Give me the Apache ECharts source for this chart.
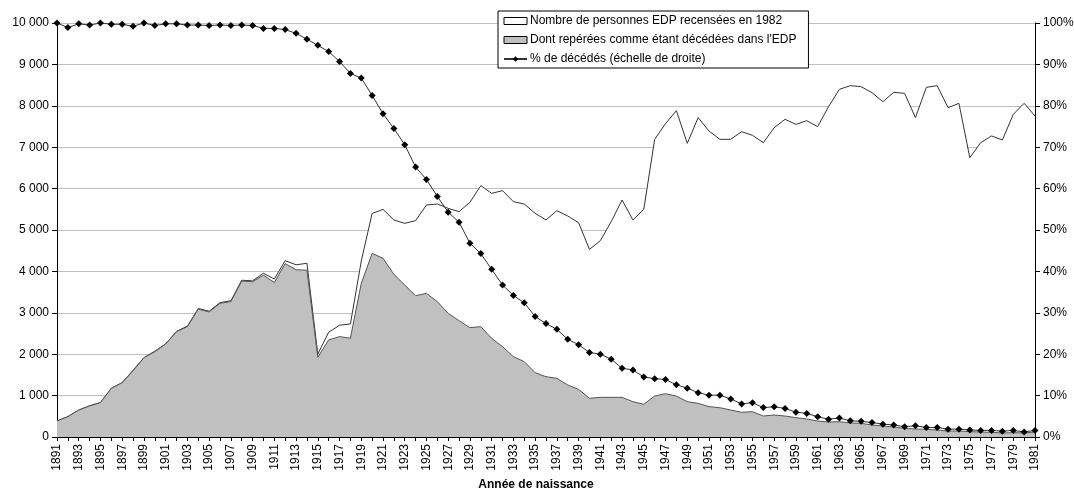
<!DOCTYPE html>
<html>
<head>
<meta charset="utf-8">
<script src="https://cdn.jsdelivr.net/npm/echarts@6/dist/echarts.min.js"></script>
<style>
html,body{margin:0;padding:0;background:#fff;}
#chart{width:1074px;height:490px;}
</style>
</head>
<body>
<div id="chart"></div>
<script>
// Years of birth 1891..1981
var years = [];
for (var y = 1891; y <= 1981; y++) years.push(String(y));

// Number of EDP persons counted in 1982
var totalPersons = [
  386, 495, 652, 754, 830, 1178, 1314, 1612, 1915, 2072,
  2250, 2550, 2678, 3105, 3038, 3246, 3290, 3786, 3772, 3955,
  3815, 4260, 4160, 4195, 2000, 2530, 2700, 2730, 4250, 5400,
  5499, 5242, 5161, 5225, 5604, 5628, 5523, 5443, 5668, 6071,
  5886, 5950, 5684, 5628, 5403, 5242, 5467, 5338, 5177, 4533,
  4742, 5201, 5725, 5242, 5499, 7190, 7570, 7882, 7093, 7713,
  7391, 7190, 7190, 7375, 7287, 7110, 7472, 7673, 7552, 7641,
  7496, 7979, 8398, 8486, 8462, 8317, 8100, 8325, 8301, 7713,
  8446, 8486, 7955, 8060, 6747, 7110, 7271, 7174, 7794, 8060,
  7754
];

// Of whom identified as deceased in the EDP
var deceased = [
  386, 490, 650, 750, 830, 1175, 1310, 1600, 1915, 2060,
  2245, 2545, 2665, 3090, 3020, 3230, 3270, 3768, 3750, 3910,
  3730, 4190, 4040, 4030, 1925, 2345, 2425, 2385, 3710, 4436,
  4316, 3930, 3671, 3414, 3470, 3269, 2987, 2810, 2641, 2665,
  2383, 2182, 1940, 1820, 1554, 1457, 1417, 1256, 1151, 934,
  958, 958, 958, 853, 789, 990, 1045, 990, 853, 813,
  733, 708, 652, 596, 612, 507, 531, 507, 467, 435,
  386, 362, 370, 340, 330, 290, 266, 241, 209, 193,
  185, 169, 145, 145, 129, 121, 113, 97, 105, 97,
  121
];

// % deceased (right scale)
var pctDeceased = [
  100, 98.9, 99.8, 99.5, 100, 99.7, 99.7, 99.2, 100, 99.4,
  99.8, 99.8, 99.5, 99.5, 99.4, 99.5, 99.4, 99.5, 99.4, 98.7,
  98.7, 98.4, 97.5, 96.1, 94.6, 93.1, 90.7, 87.8, 86.7, 82.5,
  78.1, 74.5, 70.6, 65.2, 62.2, 58.1, 54.3, 51.9, 46.8, 44.3,
  40.5, 36.7, 34.2, 32.4, 29.1, 27.4, 26.0, 23.6, 22.3, 20.4,
  20.0, 18.8, 16.6, 16.2, 14.5, 14.1, 13.9, 12.6, 11.8, 10.7,
  10.1, 10.1, 9.2, 8.0, 8.3, 7.1, 7.3, 6.9, 6.0, 5.7,
  4.9, 4.3, 4.6, 3.9, 3.8, 3.5, 3.1, 2.9, 2.5, 2.7,
  2.3, 2.3, 1.9, 1.9, 1.7, 1.6, 1.6, 1.4, 1.6, 1.2,
  1.6
];

var seriesNames = [
  "Nombre de personnes EDP recensées en 1982",
  "Dont repérées comme étant décédées dans l'EDP",
  "% de décédés (échelle de droite)"
];
var xAxisTitle = "Année de naissance";

var FONT = "'Liberation Sans', Arial, sans-serif";

function fmtThousands(v) {
  return String(v).replace(/\B(?=(\d{3})+(?!\d))/g, ' ');
}

var chart = echarts.init(document.getElementById('chart'), null, {renderer: 'canvas'});
chart.setOption({
  animation: false,
  backgroundColor: '#fff',
  textStyle: {fontFamily: FONT},
  grid: {left: 57, right: 39, top: 23, bottom: 53, containLabel: false, outerBoundsMode: 'none'},
  legend: {
    show: true,
    orient: 'vertical',
    left: 498,
    top: 11,
    padding: [3, 12, 2, 5],
    itemGap: 5,
    itemWidth: 23,
    itemHeight: 7,
    borderColor: '#000',
    borderWidth: 1,
    backgroundColor: '#fff',
    textStyle: {fontFamily: FONT, fontSize: 12, color: '#000', lineHeight: 14, padding: [0, 0, 0, -2]},
    data: [
      {name: seriesNames[0], icon: 'rect', itemStyle: {color: '#fff', borderColor: '#000', borderWidth: 1}},
      {name: seriesNames[1], icon: 'rect', itemStyle: {color: '#c0c0c0', borderColor: '#000', borderWidth: 1}},
      {name: seriesNames[2]}
    ]
  },
  xAxis: {
    type: 'category',
    data: years,
    boundaryGap: false,
    name: xAxisTitle,
    nameLocation: 'middle',
    nameGap: 42,
    nameTextStyle: {fontFamily: FONT, fontSize: 12, fontWeight: 'bold', color: '#000', padding: [0, 20, 0, 0]},
    axisLine: {lineStyle: {color: '#000', width: 1}},
    axisTick: {show: true, interval: 0, length: 4, lineStyle: {color: '#000'}},
    axisLabel: {interval: 1, rotate: 90, fontFamily: FONT, fontSize: 12, color: '#000', margin: 7},
    splitLine: {show: false}
  },
  yAxis: [
    {
      type: 'value',
      min: 0, max: 10000, interval: 1000,
      axisLine: {show: true, lineStyle: {color: '#000'}},
      axisTick: {show: true, length: 5, lineStyle: {color: '#000'}},
      axisLabel: {fontFamily: FONT, fontSize: 12, color: '#000', margin: 8, formatter: fmtThousands},
      splitLine: {show: true, lineStyle: {color: '#c0c0c0', width: 1}}
    },
    {
      type: 'value',
      min: 0, max: 100, interval: 10,
      position: 'right',
      axisLine: {show: true, lineStyle: {color: '#000'}},
      axisTick: {show: true, length: 5, lineStyle: {color: '#000'}},
      axisLabel: {fontFamily: FONT, fontSize: 12, color: '#000', margin: 8, formatter: '{value}%'},
      splitLine: {show: false}
    }
  ],
  series: [
    {
      name: seriesNames[0],
      type: 'line',
      yAxisIndex: 0,
      data: totalPersons,
      showSymbol: false,
      symbol: 'none',
      itemStyle: {color: '#fff', borderColor: '#000'},
      lineStyle: {color: '#333', width: 1},
      areaStyle: {color: '#fff', opacity: 1},
      z: 2
    },
    {
      name: seriesNames[1],
      type: 'line',
      yAxisIndex: 0,
      data: deceased,
      showSymbol: false,
      symbol: 'none',
      itemStyle: {color: '#c0c0c0'},
      lineStyle: {color: '#555', width: 1},
      areaStyle: {color: '#c0c0c0', opacity: 1},
      z: 3
    },
    {
      name: seriesNames[2],
      type: 'line',
      yAxisIndex: 1,
      data: pctDeceased,
      symbol: 'diamond',
      symbolSize: 7,
      showSymbol: true,
      itemStyle: {color: '#000'},
      lineStyle: {color: '#333', width: 1},
      z: 4
    }
  ]
});
</script>
</body>
</html>
